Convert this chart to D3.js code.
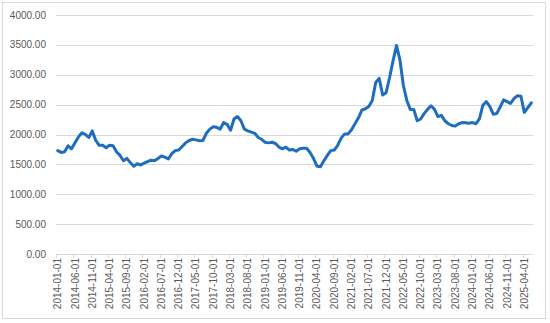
<!DOCTYPE html>
<html>
<head>
<meta charset="utf-8">
<script src="https://cdn.jsdelivr.net/npm/d3@7"></script>
<style>
  body { margin: 0; background: #fff; }
  svg { display: block; font-family: "Liberation Sans", Arial, sans-serif; }
</style>
</head>
<body>
<div id="chart"></div>
<script>
// monthly values, 2014-01 .. 2025-06
const startYear = 2014, startMonth = 1;
const values = [
  1730, 1700, 1710, 1810, 1760, 1860, 1960, 2030, 2000, 1950, 2060, 1900,
  1820, 1820, 1780, 1820, 1810, 1710, 1650, 1560, 1600, 1530, 1470, 1510,
  1490, 1520, 1545, 1570, 1560, 1600, 1640, 1620, 1590, 1680, 1730, 1740,
  1800, 1860, 1900, 1920, 1910, 1895, 1900, 2020, 2090, 2130, 2120, 2090,
  2200, 2170, 2070, 2260, 2300, 2230, 2090, 2060, 2040, 2020, 1950, 1920,
  1870, 1860, 1870, 1850, 1790, 1760, 1790, 1740, 1750, 1720, 1760, 1770,
  1770, 1700, 1600, 1470, 1460, 1560, 1650, 1730, 1740, 1820, 1940, 2010,
  2010, 2080, 2180, 2280, 2410, 2430, 2470, 2570, 2870, 2940, 2660, 2700,
  2950, 3230, 3490, 3250, 2820, 2570, 2420, 2420, 2230, 2260, 2350, 2420,
  2480, 2420, 2300, 2320, 2230, 2180, 2150, 2140, 2180, 2200, 2195, 2190,
  2200, 2180, 2260, 2490, 2550, 2470, 2340, 2350, 2460, 2580, 2550, 2520,
  2600, 2650, 2640, 2370, 2450, 2530
];
const yTicks = [0, 500, 1000, 1500, 2000, 2500, 3000, 3500, 4000];
const labelStep = 5;

const categories = values.map((v, i) => {
  const m = startMonth - 1 + i;
  const yr = startYear + Math.floor(m / 12);
  const mm = (m % 12) + 1;
  return yr + '-' + String(mm).padStart(2, '0') + '-01';
});
const data = categories.map((c, i) => ({ date: c, value: values[i] }));

const width = 550, height = 323;
const plotLeft = 56, plotRight = 533, plotTop = 15, plotBottom = 254;

const svg = d3.select('#chart').append('svg')
  .attr('width', width)
  .attr('height', height);

svg.append('rect')
  .attr('x', 2.5).attr('y', 2.5)
  .attr('width', 543).attr('height', 316)
  .attr('fill', '#fff')
  .attr('stroke', '#d9d9d9');

const x = d3.scaleBand().domain(categories).range([plotLeft, plotRight]);
const y = d3.scaleLinear().domain([0, 4000]).range([plotBottom, plotTop]);

// gridlines
svg.append('g')
  .selectAll('line')
  .data(yTicks.filter(d => d > 0))
  .enter()
  .append('line')
  .attr('x1', plotLeft).attr('x2', plotRight)
  .attr('y1', d => Math.round(y(d)) + 0.5)
  .attr('y2', d => Math.round(y(d)) + 0.5)
  .attr('stroke', '#d9d9d9')
  .attr('stroke-width', 1);

// y labels
svg.append('g')
  .selectAll('text')
  .data(yTicks)
  .enter()
  .append('text')
  .attr('x', 46)
  .attr('y', d => y(d))
  .attr('dy', '0.35em')
  .attr('text-anchor', 'end')
  .attr('font-size', 10)
  .attr('fill', '#595959')
  .text(d => d.toFixed(2));

// x axis line + ticks
svg.append('line')
  .attr('x1', plotLeft).attr('x2', plotRight)
  .attr('y1', plotBottom + 0.5).attr('y2', plotBottom + 0.5)
  .attr('stroke', '#d9d9d9');

const labelled = categories.filter((c, i) => i % labelStep === 0);

svg.append('g')
  .selectAll('line')
  .data(labelled)
  .enter()
  .append('line')
  .attr('x1', d => Math.round(x(d)) + 0.5)
  .attr('x2', d => Math.round(x(d)) + 0.5)
  .attr('y1', plotBottom).attr('y2', plotBottom + 4)
  .attr('stroke', '#d9d9d9');

svg.append('g')
  .selectAll('text')
  .data(labelled)
  .enter()
  .append('text')
  .attr('transform', d => 'translate(' + (x(d) + x.bandwidth() / 2) + ',' + (plotBottom + 4) + ') rotate(-90)')
  .attr('dy', '0.35em')
  .attr('text-anchor', 'end')
  .attr('font-size', 10)
  .attr('fill', '#595959')
  .text(d => d);

// series line
const line = d3.line()
  .x(d => x(d.date) + x.bandwidth() / 2)
  .y(d => y(d.value));

svg.append('path')
  .datum(data)
  .attr('fill', 'none')
  .attr('stroke', '#1f6ebd')
  .attr('stroke-width', 3)
  .attr('stroke-linejoin', 'round')
  .attr('stroke-linecap', 'round')
  .attr('d', line);
</script>
</body>
</html>
